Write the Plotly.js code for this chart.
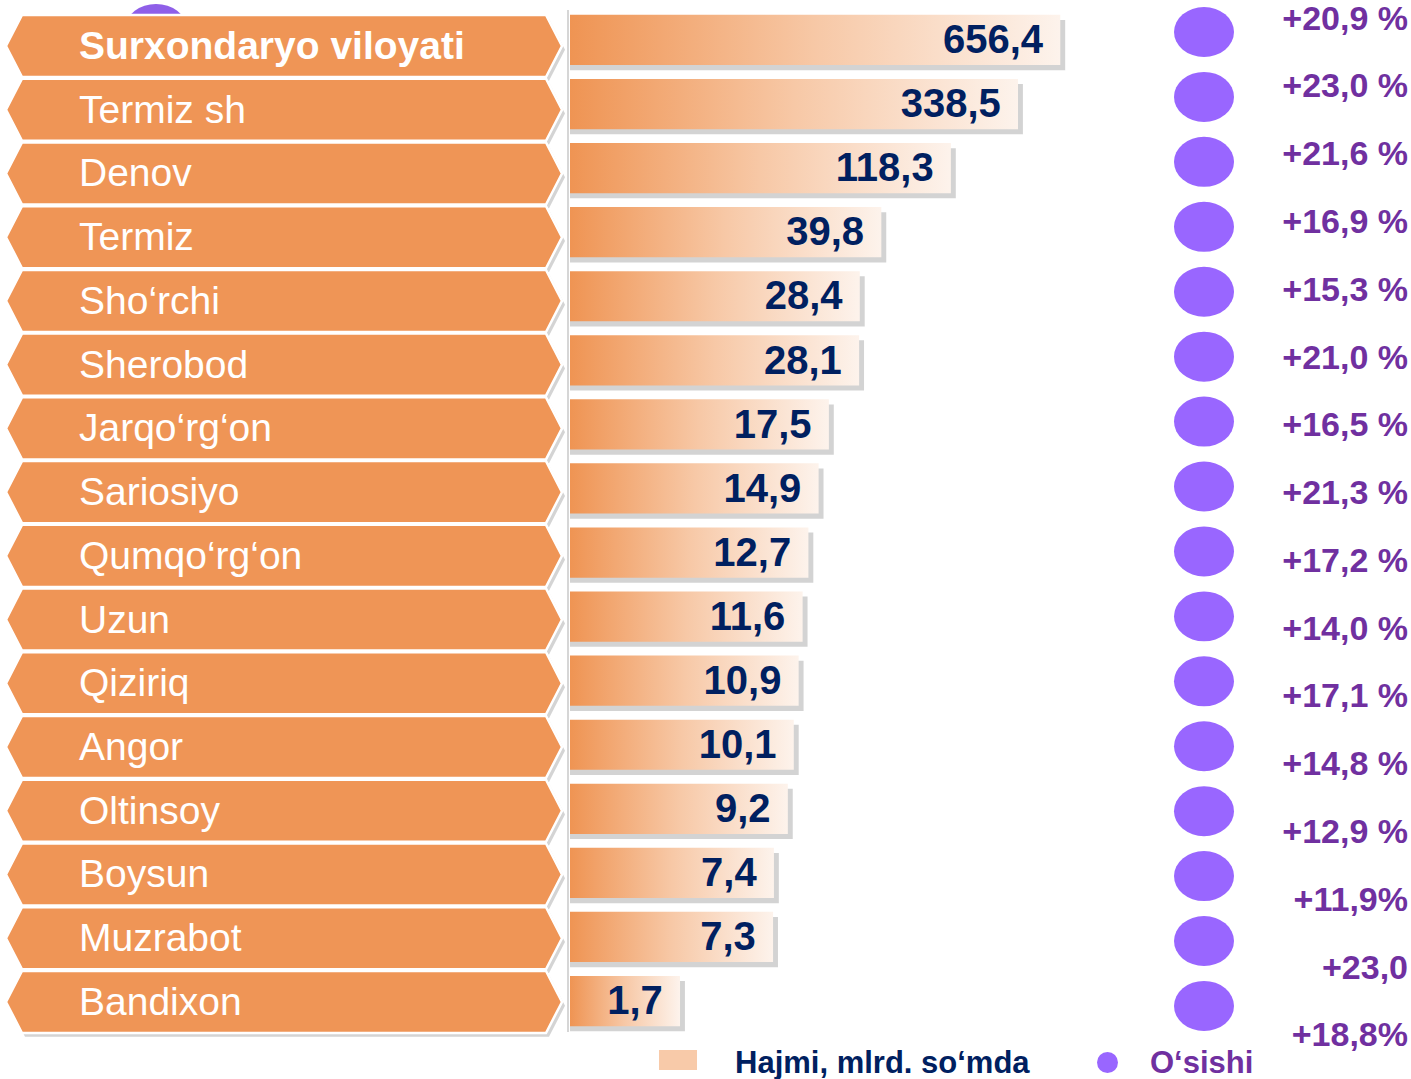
<!DOCTYPE html>
<html><head><meta charset="utf-8">
<script src="https://cdn.plot.ly/plotly-3.0.1.min.js"></script>
<style>html,body{margin:0;padding:0;background:#fff}</style>
</head><body><div id="chart" style="width:1411px;height:1079px"></div>
<script>
// ---------- DATA ----------
const districts = ["Surxondaryo viloyati","Termiz sh","Denov","Termiz","Sho‘rchi","Sherobod","Jarqo‘rg‘on","Sariosiyo","Qumqo‘rg‘on","Uzun","Qiziriq","Angor","Oltinsoy","Boysun","Muzrabot","Bandixon"];
const volume = [656.4,338.5,118.3,39.8,28.4,28.1,17.5,14.9,12.7,11.6,10.9,10.1,9.2,7.4,7.3,1.7];
const volumeLabels = ["656,4","338,5","118,3","39,8","28,4","28,1","17,5","14,9","12,7","11,6","10,9","10,1","9,2","7,4","7,3","1,7"];
const growth = [20.9,23.0,21.6,16.9,15.3,21.0,16.5,21.3,17.2,14.0,17.1,14.8,12.9,11.9,23.0,18.8];
const growthLabels = ["+20,9 %","+23,0 %","+21,6 %","+16,9 %","+15,3 %","+21,0 %","+16,5 %","+21,3 %","+17,2 %","+14,0 %","+17,1 %","+14,8 %","+12,9 %","+11,9%","+23,0","+18,8%"];
const legendNames = ["Hajmi, mlrd. so‘mda","O‘sishi"];

// ---------- STYLE / LAYOUT CONSTANTS ----------
const W = 1411, H = 1079;
const FONT = "Liberation Sans, Arial, Helvetica, sans-serif";
const NAVY = "#002060", PURPLE = "#7030a0", VIOLET = "#9966ff", ORANGE = "#ef9556";
const xLogRange = [-0.518, 5.203];
const BASE = Math.pow(10, xLogRange[0]);
const barHalf = 0.392, hexHalf = 0.487, textDrop = 0.05;
const py = p => 1 - p / H;           // pixel -> paper (y)
const idx = districts.map((_, i) => i);

const traces = [];

// dummy anchor for the pixel-x / bar-y subplot
traces.push({type:"scatter", mode:"markers", x:[null], y:[null], xaxis:"x2", yaxis:"y", hoverinfo:"skip", showlegend:false});

// label hexagon shadows + hexagons (pixel x axis, label y axis)
const hx = [], hy = [], sx = [], sy = [];
idx.forEach(i => {
  const xs = [6, 22, 546, 562, 546, 22, 6];
  const ys = [i, i - hexHalf, i - hexHalf, i, i + hexHalf, i + hexHalf, i];
  hx.push(...xs, null); hy.push(...ys, null);
  sx.push(...xs.map(v => v + 3), null); sy.push(...ys.map(v => v + 0.06), null);
});
traces.push({type:"scatter", mode:"lines", x:sx, y:sy, xaxis:"x2", yaxis:"y4",
  fill:"toself", fillcolor:"rgba(60,60,60,0.22)", line:{width:0, color:"rgba(0,0,0,0)"}, hoverinfo:"skip"});
traces.push({type:"scatter", mode:"lines", x:hx, y:hy, xaxis:"x2", yaxis:"y4",
  fill:"toself", fillcolor:ORANGE, line:{width:2.5, color:"#ffffff"}, hoverinfo:"skip"});

// district names
traces.push({type:"scatter", mode:"text", x:idx.map(() => 79), y:idx.map(i => i + textDrop),
  text:districts.map((d, i) => i === 0 ? "<b>" + d + "</b>" : d),
  textposition:"middle right", xaxis:"x2", yaxis:"y4",
  textfont:{family:FONT, size:39, color:"#ffffff"}, hoverinfo:"skip"});

// bar shadows (one trace)
const bsx = [], bsy = [];
volume.forEach((v, i) => {
  const x1 = v * 1.08, o = 0.08;
  bsx.push(BASE, x1, x1, BASE, BASE, null);
  bsy.push(i - barHalf + o, i - barHalf + o, i + barHalf + o, i + barHalf + o, i - barHalf + o, null);
});
traces.push({type:"scatter", mode:"lines", x:bsx, y:bsy, xaxis:"x", yaxis:"y",
  fill:"toself", fillcolor:"rgba(70,70,70,0.24)", line:{width:0, color:"rgba(0,0,0,0)"}, hoverinfo:"skip"});

// gradient bars
volume.forEach((v, i) => {
  traces.push({type:"scatter", mode:"lines", xaxis:"x", yaxis:"y",
    x:[BASE, v, v, BASE, BASE],
    y:[i - barHalf, i - barHalf, i + barHalf, i + barHalf, i - barHalf],
    fill:"toself", line:{width:0, color:"rgba(0,0,0,0)"},
    fillgradient:{type:"horizontal", colorscale:[[0,"#ef9453"],[0.5,"#f7c8a6"],[1,"#fdf3ec"]]},
    name:legendNames[0], hoverinfo:"skip"});
});

// value labels
traces.push({type:"scatter", mode:"markers+text", x:volume, y:idx.map(i => i + textDrop), xaxis:"x", yaxis:"y",
  text:volumeLabels, textposition:"middle left",
  marker:{size:26, color:"rgba(0,0,0,0)"},
  textfont:{family:FONT, size:40, color:NAVY, weight:"bold"}, hoverinfo:"skip"});

// growth ellipse anchor trace (invisible, keeps y2 alive)
traces.push({type:"scatter", mode:"markers", x:idx.map(() => 1205), y:idx, xaxis:"x2", yaxis:"y2",
  marker:{size:1, color:"rgba(0,0,0,0)"}, text:growthLabels, hoverinfo:"skip"});

// growth labels
traces.push({type:"scatter", mode:"text", x:idx.map(() => 1408), y:idx, xaxis:"x2", yaxis:"y3",
  text:growthLabels, textposition:"middle left",
  textfont:{family:FONT, size:34, color:PURPLE, weight:"bold"}, hoverinfo:"skip"});

// shapes
const shapes = [];
// stray purple ellipse behind first label
shapes.push({type:"circle", layer:"below", xref:"x2", yref:"paper", x0:126, x1:186, y0:py(50), y1:py(4),
  fillcolor:"#8f5fe8", line:{width:0}});
// thin axis line
shapes.push({type:"line", layer:"below", xref:"x2", yref:"paper", x0:568, x1:568, y0:py(1032), y1:py(10),
  line:{color:"#d6d6d6", width:2}});
// growth ellipses
growth.forEach((g, i) => {
  shapes.push({type:"circle", layer:"above", xref:"x2", yref:"y2", x0:1174, x1:1234,
    y0:i - 0.385, y1:i + 0.385, fillcolor:VIOLET, line:{width:0}});
});
// legend symbols
shapes.push({type:"rect", xref:"x2", yref:"paper", x0:659, x1:697, y0:py(1070), y1:py(1050),
  fillcolor:"#f8caa9", line:{width:0}});
shapes.push({type:"circle", xref:"x2", yref:"paper", x0:1097, x1:1118, y0:py(1073), y1:py(1052),
  fillcolor:VIOLET, line:{width:0}});

const annotations = [
  {xref:"x2", yref:"paper", x:733, y:py(1062), xanchor:"left", yanchor:"middle", showarrow:false,
   text:"<b>" + legendNames[0] + "</b>", font:{family:FONT, size:31, color:NAVY}},
  {xref:"x2", yref:"paper", x:1148, y:py(1062), xanchor:"left", yanchor:"middle", showarrow:false,
   text:"<b>" + legendNames[1] + "</b>", font:{family:FONT, size:31, color:PURPLE}}
];

const hidden = {visible:false, showgrid:false, zeroline:false, showticklabels:false, fixedrange:true};
const layout = {
  width:W, height:H, margin:{l:0, r:0, t:0, b:0, pad:0},
  paper_bgcolor:"#ffffff", plot_bgcolor:"rgba(0,0,0,0)", showlegend:false,
  xaxis:Object.assign({}, hidden, {type:"log", domain:[570 / W, 1], range:xLogRange, anchor:"y"}),
  xaxis2:Object.assign({}, hidden, {domain:[0, 1], range:[0, W], anchor:"y"}),
  yaxis:Object.assign({}, hidden, {domain:[0, 1], range:[16.217, -0.624], anchor:"x"}),
  yaxis2:Object.assign({}, hidden, {range:[16.125, -0.493], overlaying:"y", anchor:"x2"}),
  yaxis3:Object.assign({}, hidden, {range:[15.605, -0.31], overlaying:"y", anchor:"x2"}),
  yaxis4:Object.assign({}, hidden, {range:[16.209, -0.722], overlaying:"y", anchor:"x2"}),
  shapes:shapes, annotations:annotations
};

Plotly.newPlot("chart", traces, layout, {staticPlot:true, displayModeBar:false});
</script>
</body></html>
